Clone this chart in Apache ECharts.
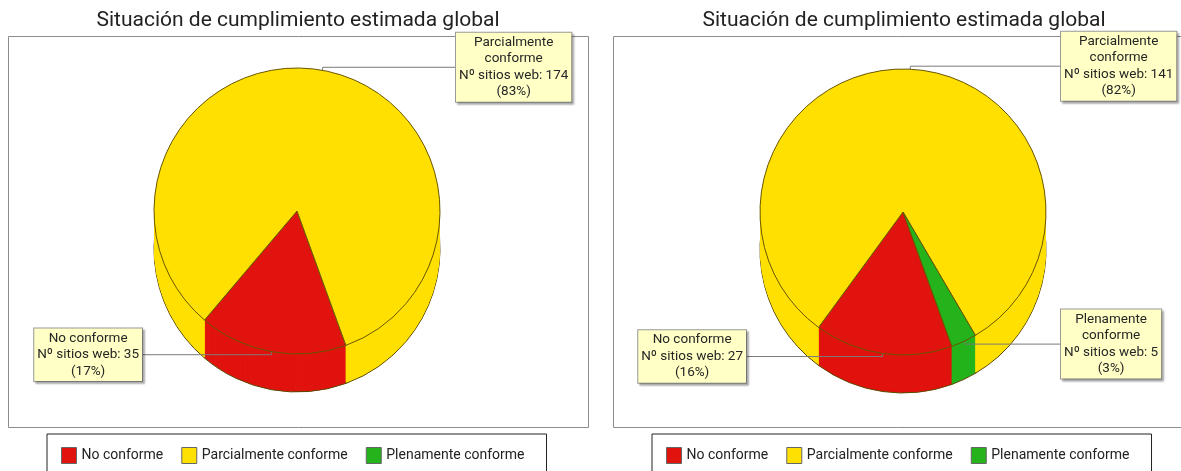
<!DOCTYPE html>
<html>
<head>
<meta charset="utf-8">
<script src="https://cdn.jsdelivr.net/npm/echarts@6/dist/echarts.min.js"></script>
<style>
html,body{margin:0;padding:0;background:#ffffff;}
#chart{width:1181px;height:471px;}
</style>
</head>
<body>
<div id="chart"></div>
<script>
// ---- data ----
const categories = ['No conforme', 'Parcialmente conforme', 'Plenamente conforme'];
const sitesLeft = [35, 174, 0];
const sitesRight = [27, 141, 5];
const titleText = 'Situación de cumplimiento estimada global';
const sitesPrefix = 'Nº sitios web: ';

// ---- style ----
const COLORS = ['#E1130F', '#FFE000', '#24B31B'];
const FONT = 'Roboto';
const R = 143;
const DEPTH = 38;
const START = 290;

function labelText(p) {
  const line2 = sitesPrefix + p.value;
  let name = p.name;
  if (name.length > line2.length) {
    const i = name.lastIndexOf(' ');
    name = name.slice(0, i) + '\n' + name.slice(i + 1);
  }
  return name + '\n' + line2 + '\n(' + Math.round(p.percent) + '%)';
}

function buildPie(values, center, edges) {
  const base = categories.map((n, i) => ({ name: n, value: values[i] }));
  const out = [];
  for (let k = DEPTH; k >= 1; k--) {
    out.push({
      type: 'pie', silent: true, animation: false, legendHoverLink: false,
      radius: R, center: [center[0], center[1] + k], startAngle: START, clockwise: true,
      z: 1,
      label: { show: false }, labelLine: { show: false },
      emphasis: { disabled: true },
      itemStyle: k === DEPTH ? { borderColor: '#5a4800', borderWidth: 1 } : { borderWidth: 0 },
      data: base.map(d => Object.assign({}, d))
    });
  }
  out.push({
    type: 'pie', animation: false, radius: R, center: center, startAngle: START, clockwise: true,
    z: 2,
    emphasis: { disabled: true },
    itemStyle: { borderColor: '#6a5600', borderWidth: 1 },
    label: {
      show: true, position: 'outside', formatter: labelText,
      fontFamily: FONT, fontSize: 13.5, lineHeight: 16.5, color: '#262626',
      backgroundColor: '#FFFFC6', borderColor: '#9a9a9a', borderWidth: 1,
      padding: [2, 3, 1, 3],
      shadowColor: 'rgba(0,0,0,0.25)', shadowBlur: 2, shadowOffsetX: 2, shadowOffsetY: 2
    },
    labelLine: { show: true, length: 3, length2: 10, smooth: false,
      lineStyle: { color: '#7a7a7a', width: 1 } },
    labelLayout: function (params) {
      const pts = params.labelLinePoints;
      if (!pts) return {};
      const right = pts[2][0] > pts[1][0];
      const cx = center[0], cy = center[1];
      const inner = [cx + (pts[0][0] - cx) * 0.89, cy + (pts[0][1] - cy) * 0.89];
      const y = pts[1][1];
      const w = params.labelRect.width;
      const edge = right ? edges[1] : edges[0];
      const x = right ? edge + w / 2 : edge - w / 2;
      return {
        x: x, y: y, align: 'center', verticalAlign: 'middle',
        labelLinePoints: [inner, [pts[1][0], pts[1][1]], [edge, y]]
      };
    },
    data: base.map(d => d.value === 0
      ? Object.assign({}, d, { label: { show: false }, labelLine: { show: false }, itemStyle: { borderWidth: 0 } })
      : Object.assign({}, d))
  });
  return out;
}

function mkLegend(left) {
  return {
    data: categories, left: left, top: 434, orient: 'horizontal',
    icon: 'rect', itemWidth: 15, itemHeight: 16, itemGap: 18,
    padding: [13, 22, 13, 14],
    borderColor: '#222', borderWidth: 1,
    selectedMode: false,
    itemStyle: { borderColor: '#666', borderWidth: 1 },
    textStyle: { fontFamily: FONT, fontSize: 14, color: '#222' }
  };
}

function mkTitle(x) {
  return {
    text: titleText, left: x, top: 10, textAlign: 'center', padding: 0,
    textStyle: { fontFamily: FONT, fontSize: 21, fontWeight: 'normal', color: '#222' }
  };
}

const chart = echarts.init(document.getElementById('chart'), null, { renderer: 'canvas' });
chart.setOption({
  backgroundColor: '#ffffff',
  color: COLORS,
  animation: false,
  title: [mkTitle(298), mkTitle(904)],
  legend: [mkLegend(47), mkLegend(652)],
  graphic: [
    { type: 'rect', silent: true, z: 0, shape: { x: 8.5, y: 36.5, width: 580, height: 391 },
      style: { fill: null, stroke: '#8c8c8c', lineWidth: 1 } },
    { type: 'rect', silent: true, z: 0, shape: { x: 613.5, y: 36.5, width: 580, height: 391 },
      style: { fill: null, stroke: '#8c8c8c', lineWidth: 1 } }
  ],
  series: buildPie(sitesLeft, [297, 211], [143, 455])
    .concat(buildPie(sitesRight, [903, 212], [747, 1060]))
});
</script>
</body>
</html>
